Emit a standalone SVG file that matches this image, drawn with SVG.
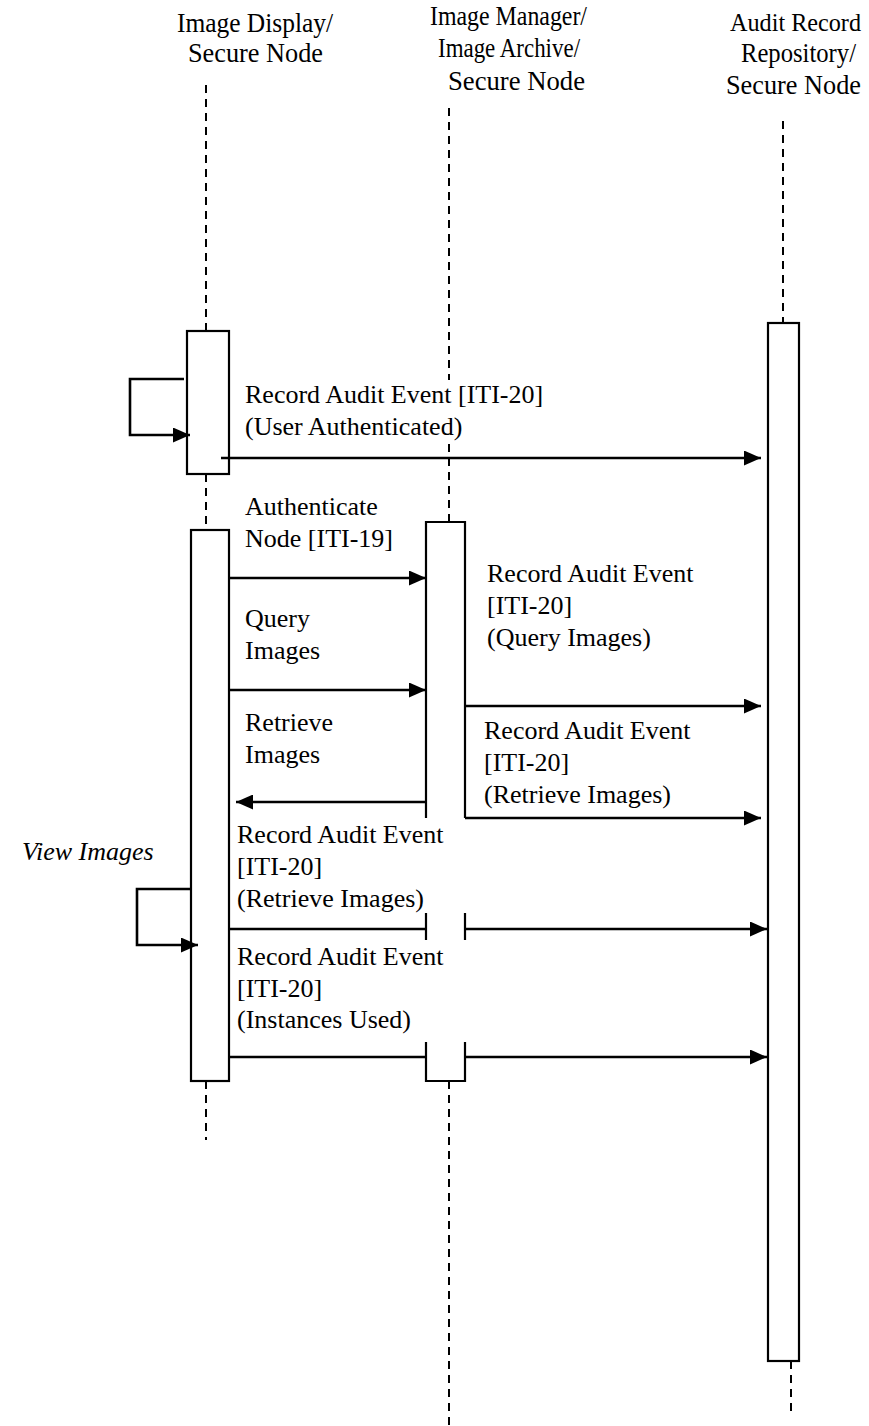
<svg xmlns="http://www.w3.org/2000/svg" width="869" height="1426" viewBox="0 0 869 1426">
<style>
text{font-family:"Liberation Serif","Times New Roman",serif;fill:#000}
.h{font-size:28px}
.h2{font-size:25px}
.t{font-size:26px}
.i{font-size:26px;font-style:italic}
.box{fill:#fff;stroke:#000;stroke-width:2.2}
.life{stroke:#000;stroke-width:2;stroke-dasharray:8 6;fill:none}
.msg{stroke:#000;stroke-width:2.6;fill:none}
.seg{stroke:#000;stroke-width:2.2;fill:none}
.bg{fill:#fff;stroke:none}
</style>
<defs>
<marker id="ah" markerUnits="userSpaceOnUse" markerWidth="17" markerHeight="15" refX="17" refY="7.5" orient="auto">
<path d="M0,0 L17,7.5 L0,15 z" fill="#000"/>
</marker>
</defs>
<rect width="869" height="1426" fill="#fff"/>

<g id="lifelines">
<line class="life" x1="206" y1="85" x2="206" y2="331"/>
<line class="life" x1="206" y1="474" x2="206" y2="530"/>
<line class="life" x1="206" y1="1081" x2="206" y2="1140"/>
<line class="life" x1="449" y1="108" x2="449" y2="522"/>
<line class="life" x1="449" y1="1081" x2="449" y2="1426"/>
<line class="life" x1="783" y1="121" x2="783" y2="323"/>
<line class="life" x1="791" y1="1361" x2="791" y2="1412"/>
</g>

<g id="node-image-display">
<text class="h" x="177" y="32" textLength="156" lengthAdjust="spacingAndGlyphs">Image Display/</text>
<text class="h" x="188" y="62" textLength="135" lengthAdjust="spacingAndGlyphs">Secure Node</text>
<rect id="act-display-1" class="box" x="187" y="331" width="42" height="143"/>
<rect id="act-display-2" class="box" x="191" y="530" width="38" height="551"/>
</g>

<g id="node-image-manager">
<text class="h" x="430" y="25" textLength="157" lengthAdjust="spacingAndGlyphs">Image Manager/</text>
<text class="h" x="438" y="57" textLength="142" lengthAdjust="spacingAndGlyphs">Image Archive/</text>
<text class="h" x="448" y="90" textLength="137" lengthAdjust="spacingAndGlyphs">Secure Node</text>
<g id="act-manager">
<path class="seg" d="M426,818 V522 H465 V818"/>
<path class="seg" d="M426,913 V940 M465,913 V940"/>
<path class="seg" d="M426,1042 V1081 H465 V1042"/>
</g>
</g>

<g id="node-audit-repository">
<text class="h2" x="730" y="31" textLength="131" lengthAdjust="spacingAndGlyphs">Audit Record</text>
<text class="h" x="741" y="62" textLength="115" lengthAdjust="spacingAndGlyphs">Repository/</text>
<text class="h" x="726" y="94" textLength="135" lengthAdjust="spacingAndGlyphs">Secure Node</text>
<rect id="act-repository" class="box" x="768" y="323" width="31" height="1038"/>
</g>

<g id="connectors">
<path class="msg" d="M184,379 H130 V435 H190" marker-end="url(#ah)"/>
<line class="msg" x1="221" y1="458" x2="761" y2="458" marker-end="url(#ah)"/>
<line class="msg" x1="230" y1="578" x2="426" y2="578" marker-end="url(#ah)"/>
<line class="msg" x1="230" y1="690" x2="426" y2="690" marker-end="url(#ah)"/>
<line class="msg" x1="465" y1="706" x2="761" y2="706" marker-end="url(#ah)"/>
<line class="msg" x1="426" y1="802" x2="236" y2="802" marker-end="url(#ah)"/>
<line class="msg" x1="465" y1="818" x2="761" y2="818" marker-end="url(#ah)"/>
<path class="msg" d="M191,889 H137 V945 H198" marker-end="url(#ah)"/>
<line class="msg" x1="230" y1="929" x2="426" y2="929"/>
<line class="msg" x1="465" y1="929" x2="767" y2="929" marker-end="url(#ah)"/>
<line class="msg" x1="230" y1="1057" x2="426" y2="1057"/>
<line class="msg" x1="465" y1="1057" x2="767" y2="1057" marker-end="url(#ah)"/>
</g>

<g id="labels">
<rect class="bg" x="242" y="380" width="316" height="64"/>
<text class="t" x="245" y="403">Record Audit Event [ITI-20]</text>
<text class="t" x="245" y="435">(User Authenticated)</text>
<text class="t" x="245" y="515">Authenticate</text>
<text class="t" x="245" y="547">Node [ITI-19]</text>
<text class="t" x="245" y="627">Query</text>
<text class="t" x="245" y="659">Images</text>
<text class="t" x="245" y="731">Retrieve</text>
<text class="t" x="245" y="763">Images</text>
<text class="t" x="487" y="582">Record Audit Event</text>
<text class="t" x="487" y="614">[ITI-20]</text>
<text class="t" x="487" y="646">(Query Images)</text>
<text class="t" x="484" y="739">Record Audit Event</text>
<text class="t" x="484" y="771">[ITI-20]</text>
<text class="t" x="484" y="803">(Retrieve Images)</text>
<text class="i" x="22" y="860">View Images</text>
<text class="t" x="237" y="843">Record Audit Event</text>
<text class="t" x="237" y="875">[ITI-20]</text>
<text class="t" x="237" y="907">(Retrieve Images)</text>
<text class="t" x="237" y="965">Record Audit Event</text>
<text class="t" x="237" y="997">[ITI-20]</text>
<text class="t" x="237" y="1028">(Instances Used)</text>
</g>
</svg>
